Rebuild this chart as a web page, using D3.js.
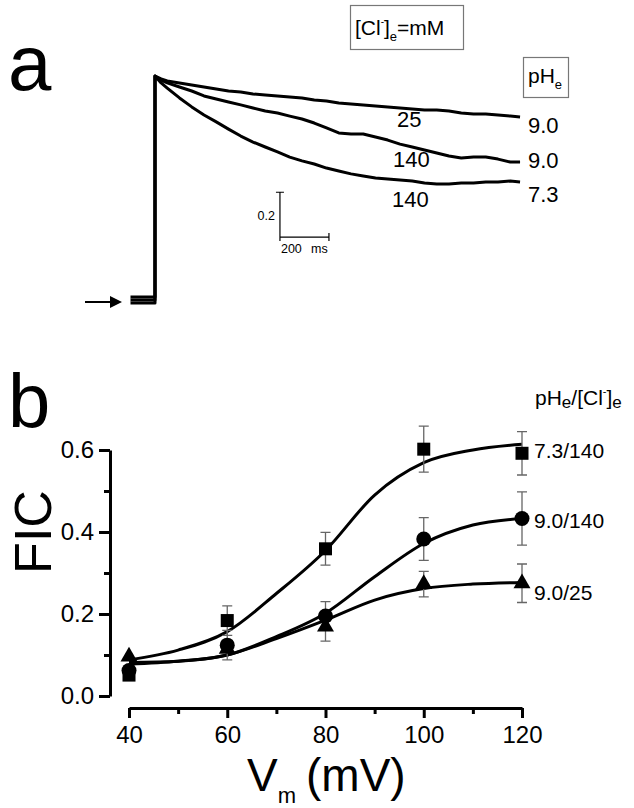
<!DOCTYPE html>
<html><head><meta charset="utf-8">
<script src="https://cdn.jsdelivr.net/npm/d3@7"></script>
<style>
html,body{margin:0;padding:0;background:#fff;}
svg{display:block;font-family:"Liberation Sans",Arial,Helvetica,sans-serif;}
</style></head>
<body><svg id="c" width="634" height="808"></svg>
<script>
// ---------- Panel a data: normalized current traces ----------
const traceTimes = [0,25,50,100,150,200,250,300,350,400,450,500,550,600,650,700,750,800,850,900,950,1000,1050,1100,1150,1200,1250,1300,1350,1400,1450,1490];
const trace25_pH90 = [1.000,0.987,0.978,0.969,0.960,0.951,0.942,0.933,0.929,0.920,0.915,0.911,0.906,0.902,0.893,0.888,0.879,0.875,0.871,0.866,0.862,0.857,0.853,0.848,0.848,0.844,0.835,0.830,0.830,0.826,0.821,0.817];
const trace140_pH90 = [1.000,0.982,0.969,0.951,0.933,0.911,0.897,0.884,0.871,0.857,0.844,0.835,0.821,0.808,0.790,0.768,0.746,0.741,0.741,0.728,0.714,0.696,0.683,0.670,0.656,0.643,0.634,0.638,0.638,0.629,0.616,0.616];
const trace140_pH73 = [1.000,0.969,0.946,0.902,0.862,0.826,0.795,0.763,0.732,0.705,0.683,0.661,0.638,0.621,0.607,0.589,0.576,0.563,0.554,0.545,0.540,0.536,0.531,0.522,0.518,0.518,0.522,0.522,0.527,0.527,0.531,0.527];
const traceBaselines = [0.013, 0.000, -0.013];
const traceClLabels = ["25","140","140"];
const tracePHLabels = ["9.0","9.0","7.3"];

// ---------- Panel b data: FIC vs Vm ----------
const vmValues = [40,60,80,100,120];
const seriesNames = ["7.3/140","9.0/140","9.0/25"];
const ficSquare   = [0.051,0.184,0.359,0.602,0.592];
const errSquare   = [0.000,0.036,0.040,0.056,0.053];
const ficCircle   = [0.062,0.124,0.195,0.383,0.433];
const errCircle   = [0.000,0.036,0.035,0.052,0.065];
const ficTriangle = [0.096,0.115,0.169,0.273,0.275];
const errTriangle = [0.000,0.000,0.035,0.031,0.047];
// fitted curves
const fitVm = [40,50,60,70,80,90,100,110,120];
const fitSquare   = [0.088,0.112,0.157,0.250,0.355,0.490,0.569,0.600,0.614];
const fitCircle   = [0.078,0.085,0.100,0.145,0.202,0.291,0.372,0.417,0.433];
const fitTriangle = [0.082,0.085,0.100,0.140,0.185,0.234,0.262,0.273,0.277];
const yTicks = [0,0.2,0.4,0.6], yMinor=[0.1,0.3,0.5];
const xTicks = [40,60,80,100,120], xMinor=[50,70,90,110];

const svg = d3.select("#c");
svg.append("rect").attr("width",634).attr("height",808).attr("fill","#fff");

// ================= Panel a =================
const xt = d3.scaleLinear().domain([0,1500]).range([155,522.5]);
const yt = d3.scaleLinear().domain([0,1]).range([300,76]);
const ga = svg.append("g");
ga.append("text").attr("x",8).attr("y",90).attr("font-size",78).text("a");

const traces=[trace25_pH90,trace140_pH90,trace140_pH73];
const lineA = d3.line().x(d=>xt(d[0])).y(d=>yt(d[1]));
traces.forEach((tr,i)=>{
  const pts=[[-100,traceBaselines[i]],[0,traceBaselines[i]]].concat(traceTimes.map((t,j)=>[t,tr[j]]));
  ga.append("path").attr("d",lineA(pts)).attr("fill","none").attr("stroke","#000")
    .attr("stroke-width",3).attr("stroke-linejoin","round");
});
// labels
const clPos=[[397,127],[393,167],[392,207]];
traceClLabels.forEach((s,i)=>ga.append("text").attr("x",clPos[i][0]).attr("y",clPos[i][1]).attr("font-size",22).text(s));
const phY=[133,168,202];
tracePHLabels.forEach((s,i)=>ga.append("text").attr("x",528).attr("y",phY[i]).attr("font-size",22).text(s));
// boxes
ga.append("rect").attr("x",350.5).attr("y",5.5).attr("width",113).attr("height",44).attr("fill","none").attr("stroke","#777").attr("stroke-width",1.2);
const t1=ga.append("text").attr("x",355).attr("y",35).attr("font-size",21);
t1.append("tspan").text("[Cl");
t1.append("tspan").attr("font-size",10).attr("dy",-10).text("-");
t1.append("tspan").attr("dy",10).text("]");
t1.append("tspan").attr("font-size",13).attr("dy",6).text("e");
t1.append("tspan").attr("dy",-6).text("=mM");
ga.append("rect").attr("x",523.5).attr("y",57.5).attr("width",45).attr("height",40).attr("fill","none").attr("stroke","#777").attr("stroke-width",1.2);
const t2=ga.append("text").attr("x",528).attr("y",83).attr("font-size",21);
t2.append("tspan").text("pH");
t2.append("tspan").attr("font-size",13).attr("dy",6).text("e");
// scale bar: 200 ms by 0.2
const sbT=510, sbV=0.281;
ga.append("path").attr("d",`M${xt(sbT)-4},${yt(sbV+0.2)}H${xt(sbT)+4}M${xt(sbT)},${yt(sbV+0.2)}V${yt(sbV)+4}M${xt(sbT)},${yt(sbV)}H${xt(sbT+200)}M${xt(sbT+200)},${yt(sbV)-4}V${yt(sbV)+4}`)
  .attr("stroke","#000").attr("stroke-width",1.2).attr("fill","none");
ga.append("text").attr("x",xt(sbT)-5).attr("y",220).attr("text-anchor","end").attr("font-size",12.5).text("0.2");
ga.append("text").attr("x",xt(sbT)+1).attr("y",253).attr("font-size",12.5).text("200");
ga.append("text").attr("x",311).attr("y",253).attr("font-size",12.5).text("ms");
// arrow
ga.append("line").attr("x1",85).attr("x2",112).attr("y1",302).attr("y2",302).attr("stroke","#000").attr("stroke-width",2);
ga.append("path").attr("d","M110,296L122,302L110,308Z").attr("fill","#000");

// ================= Panel b =================
const x = d3.scaleLinear().domain([40,120]).range([129,522]);
const y = d3.scaleLinear().domain([0,0.6]).range([696,450]);
const gb = svg.append("g");
gb.append("text").attr("x",8).attr("y",427).attr("font-size",76).text("b");

// y axis
gb.append("g").attr("transform","translate(110,0)")
  .call(d3.axisLeft(y).tickValues(yTicks).tickSize(11).tickSizeOuter(0).tickPadding(5).tickFormat(d3.format(".1f")));
gb.append("g").attr("transform","translate(110,0)")
  .call(d3.axisLeft(y).tickValues(yMinor).tickSize(6).tickSizeOuter(0).tickFormat(""))
  .select(".domain").remove();
// x axis
gb.append("g").attr("transform","translate(0,708)")
  .call(d3.axisBottom(x).tickValues(xTicks).tickSize(10).tickSizeOuter(0).tickPadding(8).tickFormat(d3.format("d")));
gb.append("g").attr("transform","translate(0,708)")
  .call(d3.axisBottom(x).tickValues(xMinor).tickSize(6).tickSizeOuter(0).tickFormat(""))
  .select(".domain").remove();
gb.selectAll(".domain").attr("stroke-width",3).attr("stroke","#000");
gb.selectAll(".tick line").attr("stroke-width",3).attr("stroke","#000");
gb.selectAll(".tick text").attr("font-size",24).attr("font-family","Liberation Sans, Arial, sans-serif").attr("fill","#000");

// axis titles
gb.append("text").attr("transform","translate(51,532) rotate(-90)").attr("text-anchor","middle").attr("font-size",52).text("FIC");
const vt=gb.append("text").attr("x",247).attr("y",791).attr("font-size",46);
vt.append("tspan").text("V");
vt.append("tspan").attr("font-size",22).attr("dy",12).text("m");
vt.append("tspan").attr("dy",-12).attr("dx",10).text("(mV)");

// fitted curves
const lineB = d3.line().x(d=>x(d[0])).y(d=>y(d[1])).curve(d3.curveMonotoneX);
[fitSquare,fitCircle,fitTriangle].forEach(f=>{
  gb.append("path").attr("d",lineB(fitVm.map((v,i)=>[v,f[i]]))).attr("fill","none").attr("stroke","#000").attr("stroke-width",3);
});

// error bars and markers
const series=[[ficSquare,errSquare,"square"],[ficCircle,errCircle,"circle"],[ficTriangle,errTriangle,"triangle"]];
series.forEach(([vals,errs])=>{
  vals.forEach((v,i)=>{
    if(errs[i]<=0) return;
    const cx=x(vmValues[i]);
    gb.append("path").attr("d",`M${cx},${y(v+errs[i])}V${y(v-errs[i])}M${cx-5},${y(v+errs[i])}H${cx+5}M${cx-5},${y(v-errs[i])}H${cx+5}`)
      .attr("stroke","#666").attr("stroke-width",1.3).attr("fill","none");
  });
});
series.forEach(([vals,errs,shape])=>{
  vals.forEach((v,i)=>{
    const cx=x(vmValues[i]), cy=y(v);
    if(shape==="square") gb.append("rect").attr("x",cx-6.5).attr("y",cy-6.5).attr("width",13).attr("height",13).attr("fill","#000");
    else if(shape==="circle") gb.append("circle").attr("cx",cx).attr("cy",cy).attr("r",7.5).attr("fill","#000");
    else gb.append("path").attr("transform",`translate(${cx},${cy})`).attr("d",d3.symbol(d3.symbolTriangle,125)()).attr("fill","#000");
  });
});
// series labels
const labY=[458,528,600];
seriesNames.forEach((s,i)=>gb.append("text").attr("x",534).attr("y",labY[i]).attr("font-size",21).text(s));
const lt=gb.append("text").attr("x",535).attr("y",405).attr("font-size",21);
lt.append("tspan").text("pH");
lt.append("tspan").attr("font-size",17).attr("dy",3).text("e");
lt.append("tspan").attr("dy",-3).text("/[Cl");
lt.append("tspan").attr("font-size",11).attr("dy",-10).text("-");
lt.append("tspan").attr("dy",10).text("]");
lt.append("tspan").attr("font-size",17).attr("dy",3).text("e");
</script></body></html>
